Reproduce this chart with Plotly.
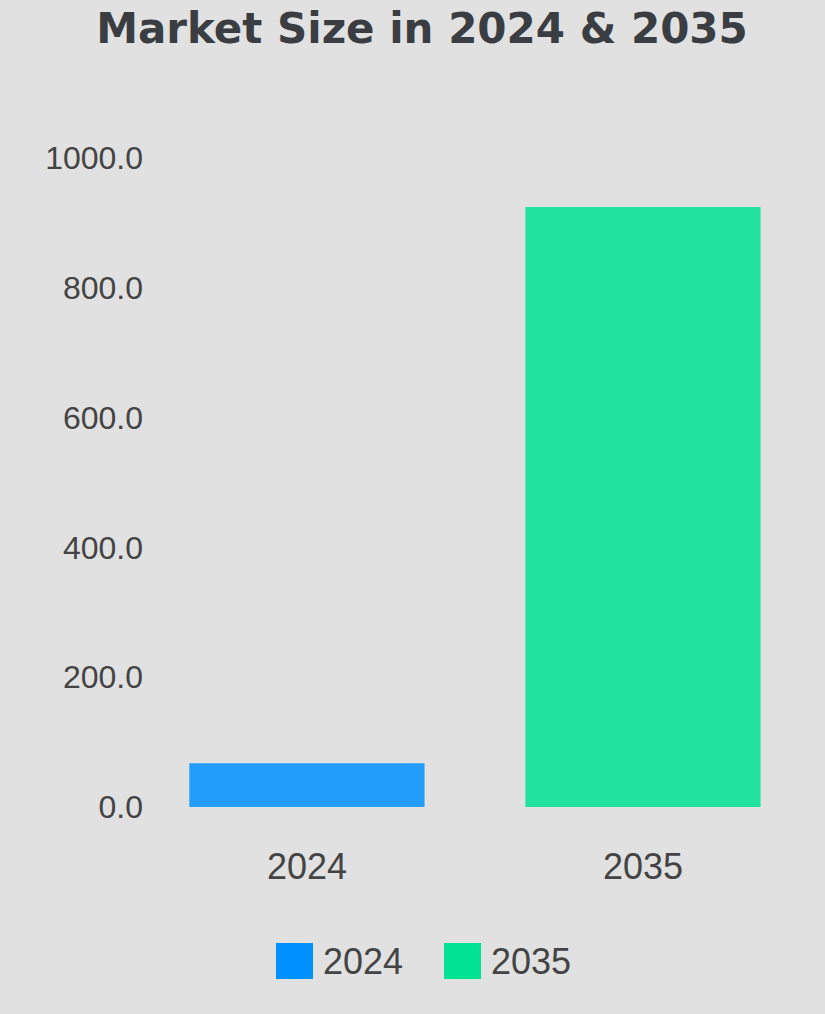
import plotly.graph_objects as go

# ---- data ----
categories = ["2024", "2035"]
values = [67.5, 924.5]
series_names = ["2024", "2035"]
colors = ["#0091ff", "#00e294"]
y_ticks = [0, 200, 400, 600, 800, 1000]
title_text = "Market Size in 2024 & 2035"

W, H = 825, 1014
ML, MR, MT, MB = 150, 14, 158, 207
BG = "#e1e1e1"

fig = go.Figure()
for cat, val, name, col in zip(categories, values, series_names, colors):
    fig.add_trace(go.Bar(
        x=[cat], y=[val], name=name,
        marker=dict(color=col, opacity=0.85, line=dict(width=0)),
        width=0.7, showlegend=False,
        hovertemplate="%{x}: %{y:.1f}<extra></extra>",
    ))

# custom legend (large swatches) below plot
plot_w = W - ML - MR
plot_h = H - MT - MB
def px_x(p):
    return (p - ML) / plot_w
def px_y(p):
    return (H - MB - p) / plot_h

legend_items_x = [276, 444]  # swatch left edges in px
sw = 37
sw_top, sw_bot = 943, 979
shapes = []
annotations = []
for name, col, lx in zip(series_names, colors, legend_items_x):
    shapes.append(dict(type="rect", xref="paper", yref="paper",
                       x0=px_x(lx), x1=px_x(lx + sw),
                       y0=px_y(sw_bot), y1=px_y(sw_top),
                       fillcolor=col, line=dict(width=0)))
    annotations.append(dict(xref="paper", yref="paper",
                            x=px_x(lx + sw + 8), y=px_y((sw_top + sw_bot) / 2),
                            xanchor="left", yanchor="middle", showarrow=False,
                            text=name,
                            font=dict(family="Liberation Sans, Arial, sans-serif",
                                      size=36, color="#444444")))

fig.update_layout(
    width=W, height=H,
    paper_bgcolor=BG, plot_bgcolor=BG,
    margin=dict(l=ML, r=MR, t=MT, b=MB),
    barmode="overlay",
    title=dict(text=title_text, x=422 / W, xref="container", xanchor="center",
               y=1 - 28 / H, yref="container", yanchor="middle",
               font=dict(family="DejaVu Sans, sans-serif", size=42,
                         color="#3a3d42", weight="bold")),
    xaxis=dict(type="category", range=[-0.467, 1.5], showgrid=False,
               zeroline=False, showline=False, ticks="",
               tickfont=dict(family="Liberation Sans, Arial, sans-serif",
                             size=36, color="#444444"),
               ticklabelstandoff=35),
    yaxis=dict(range=[0, 1000], tickvals=y_ticks, tickformat=".1f",
               showgrid=False, zeroline=False, showline=False, ticks="",
               tickfont=dict(family="Liberation Sans, Arial, sans-serif",
                             size=32, color="#444444"),
               ticklabelstandoff=6),
    shapes=shapes,
    annotations=annotations,
    showlegend=False,
)

fig.write_html(
    "out.html",
    config={"displayModeBar": False},
    post_script="document.body.style.margin='0';document.body.style.overflow='hidden';",
)
